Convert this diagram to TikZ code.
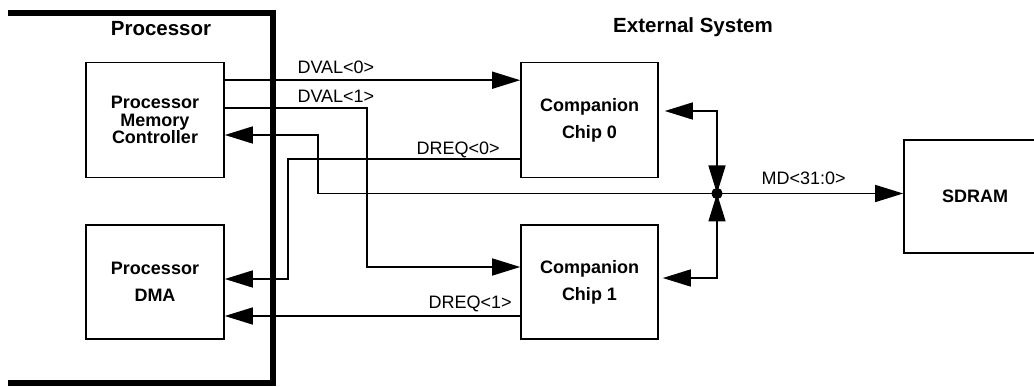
\documentclass[tikz,border=0pt]{standalone}
\usepackage{fontspec}
\setmainfont{Liberation Sans}
\usepackage{tikz}
\usetikzlibrary{
  positioning,
  arrows.meta
}

\begin{document}
\begin{tikzpicture}[
  x=1pt, y=-1pt,
  >={Triangle[length=28pt,width=17pt]},
  font=\fontsize{18}{22}\selectfont,
  blk/.style={draw, line width=1.6pt, rectangle, align=center,
    font=\bfseries\fontsize{18}{27}\selectfont},
  sig/.style={line width=1.5pt},
  ttl/.style={font=\bfseries\fontsize{20.5}{24}\selectfont, anchor=base}
]
  \useasboundingbox (0,0) rectangle (1034,387);
  \clip (0,0) rectangle (1034,387);
  \draw[line width=6pt] (8,13) -| (273,383) -- (8,383);
  \node[ttl] (proctitle) at (161,36) {Processor};
  \node[ttl] (exttitle) at (693,33) {External System};
  \node[blk, minimum width=138pt, minimum height=115pt,
    font=\bfseries\fontsize{18}{17.5}\selectfont] (pmc) at (155,120)
    {Processor\\Memory\\Controller};
  \node[blk, minimum width=138pt, minimum height=114pt] (dma) at (155,282)
    {Processor\\DMA};
  \node[blk, minimum width=137pt, minimum height=115pt] (cc0) at (589.5,120)
    {Companion\\Chip 0};
  \node[blk, minimum width=137pt, minimum height=114pt] (cc1) at (589.5,282)
    {Companion\\Chip 1};
  \node[blk, minimum width=142pt, minimum height=113pt] (sdram) at (975,196.5)
    {SDRAM};
  \node[circle, fill, inner sep=0pt, minimum size=11pt] (jn) at (717,193.5) {};
  % DVAL / DREQ
  \draw[sig, ->] ([yshift=-18.5pt]pmc.north east) -- ([yshift=-18.5pt]cc0.north west);
  \draw[sig, ->] ([yshift=-46.5pt]pmc.north east)
    -| ([xshift=-153pt,yshift=15pt]cc1.west) -- ([yshift=15pt]cc1.west);
  \draw[sig, ->] ([yshift=-39pt]cc0.west)
    -| ([xshift=63pt,yshift=3pt]dma.east) -- ([yshift=3pt]dma.east);
  \draw[sig, ->] ([yshift=-34pt]cc1.west) -- ([yshift=-34pt]dma.east);
  % MD bus
  \draw[sig, ->] (jn.center) -| ([xshift=93pt,yshift=-15pt]pmc.east)
    -- ([yshift=-15pt]pmc.east);
  \draw[sig, ->] (jn.center) -- (sdram.west |- jn.center);
  \draw[sig, <->] ([xshift=6pt,yshift=9pt]cc0.east) -| (jn.center);
  \draw[sig, <->] ([xshift=4pt,yshift=4pt]cc1.east) -| (jn.center);
  \fill (jn.center) circle (5.5pt);
  \node[anchor=base west] (dv0) at (294,74) {DVAL<0>};
  \node[anchor=base west] (dv1) at (294,103) {DVAL<1>};
  \node[anchor=base west] (dq0) at (413,155) {DREQ<0>};
  \node[anchor=base west] (dq1) at (425,309) {DREQ<1>};
  \node[anchor=base west] (md) at (758,185) {MD<31:0>};
\end{tikzpicture}
\end{document}
